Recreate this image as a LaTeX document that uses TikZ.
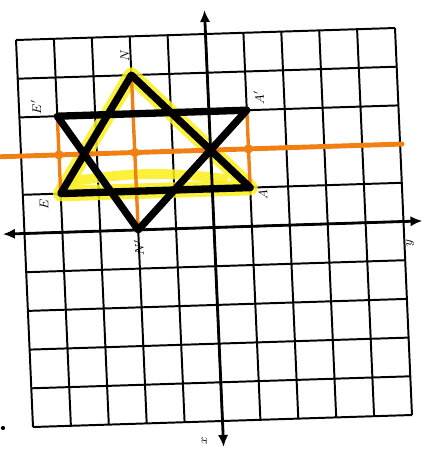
\documentclass[tikz,border=0pt]{standalone}
\usepackage{amsmath,amssymb}
\usepackage{xcolor}
\usepackage{tikz}
\usetikzlibrary{arrows.meta,calc}

\definecolor{hiyel}{RGB}{250,238,25}
\definecolor{hiorg}{RGB}{240,128,20}

\begin{document}
\begin{tikzpicture}[
        gridline/.style={line width=1.4pt},
        axis/.style={line width=2pt, {Latex[length=3mm,width=2.6mm]}-{Latex[length=3mm,width=2.6mm]}},
        tri/.style={line width=5.2pt, line join=round, line cap=round},
        marker/.style={hiyel, line width=11pt, line join=round, line cap=round, opacity=.85},
        mirror/.style={hiorg, line width=3.5pt, line cap=round},
        tick/.style={hiorg, line width=2.4pt},
        vlabel/.style={rotate=90, font=\small, inner sep=1pt}
    ]
    \useasboundingbox (0,0) rectangle (10.6,-11.475);
    % sheet is photographed a little skewed
    \begin{scope}[shift={(0.4,-1.0)}, x={(0.9475cm,0.03cm)}, y={(0.0425cm,-0.9675cm)}]
        \foreach \k in {0,...,10} {
            \draw[gridline] (\k,0) -- (\k,10);
            \draw[gridline] (0,\k) -- (10,\k);
        }
        % vertices
        \coordinate (N) at (3,1);
        \coordinate (E) at (1,4);
        \coordinate (A) at (6,4);
        \coordinate (Np) at (3,5);
        \coordinate (Ep) at (1,2);
        \coordinate (Ap) at (6,2);
        \coordinate (m1) at (-0.6,3);
        \coordinate (m2) at (10.05,3);
        \coordinate (xa) at (5,-0.62);
        \coordinate (xb) at (5,10.67);
        \coordinate (ya) at (-0.57,5);
        \coordinate (yb) at (10.5,5);

        \draw[marker] (N) -- (E) -- (A) -- cycle;
        \draw[marker, line width=7pt] ($(E)+(0.3,-0.3)$) to[bend left=8] ($(A)+(-0.7,-0.25)$);

        \draw[tick] (Ep) -- (E);
        \draw[tick] (N) -- (Np);
        \draw[tick] (Ap) -- (A);
        \foreach \c in {1,3,6}
            \fill[hiorg] (\c,3) circle (0.12);
        \draw[mirror] (m1) -- (m2);

        \draw[tri] (N) -- (E) -- (A) -- cycle;
        \draw[tri] (Np) -- (Ep) -- (Ap) -- cycle;

        \draw[axis] (xa) -- (xb);
        \draw[axis] (ya) -- (yb);

        \node[vlabel] (lN) at ($(N)+(-0.15,-0.5)$) {$N$};
        \node[vlabel] (lNp) at ($(Np)+(0,0.45)$) {$N'$};
        \node[vlabel] (lEp) at ($(Ep)+(-0.55,-0.25)$) {$E'$};
        \node[vlabel] (lE) at ($(E)+(-0.45,0.27)$) {$E$};
        \node[vlabel] (lAp) at ($(Ap)+(0.33,-0.32)$) {$A'$};
        \node[vlabel] (lA) at ($(A)+(0.33,0.2)$) {$A$};
        \node[vlabel] (lx) at (4.5,10.5) {$x$};
        \node[vlabel] (ly) at (10.15,5.55) {$y$};
    \end{scope}
    \fill (0.075,-10.7) circle (1.5pt);
\end{tikzpicture}
\end{document}
